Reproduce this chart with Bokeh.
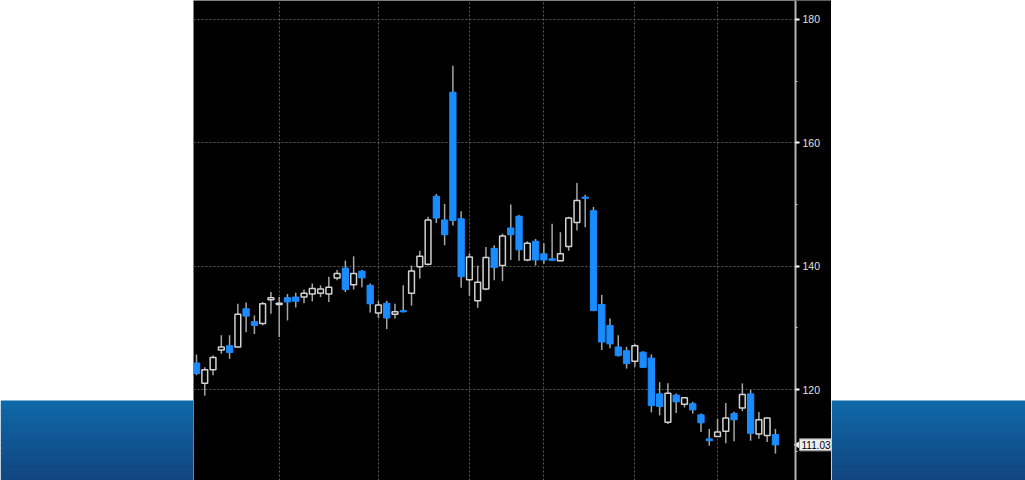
import math
from bokeh.plotting import figure
from bokeh.layouts import row
from bokeh.models import Range1d, FixedTicker, Label, LinearAxis, BoxAnnotation
from bokeh.embed import file_html
from bokeh.resources import INLINE

# ---- data ----
opens = [124.3, 121.0, 123.2, 126.4, 127.1, 126.9, 133.1, 131.0, 130.7, 134.55,
         133.8, 134.9, 135.0, 135.0, 135.5, 135.6, 135.5, 138.1, 139.7, 137.0,
         139.2, 136.9, 132.4, 134.0, 132.2, 132.8, 135.6, 139.9, 140.3, 151.35,
         147.5, 168.2, 147.7, 137.8, 134.4, 136.3, 142.9, 140.1, 146.2, 148.1,
         141.0, 144.05, 142.0, 141.2, 140.9, 143.2, 147.1, 151.2, 149.0, 133.8,
         130.4, 126.9, 126.3, 124.6, 126.05, 125.1, 119.3, 114.7, 119.1, 117.6,
         117.7, 115.9, 112.0, 112.4, 113.25, 116.1, 117.0, 119.3, 112.8, 112.55,
         112.7]
highs = [125.7, 123.6, 125.5, 128.8, 128.8, 133.9, 134.1, 132.0, 134.2, 135.8,
         135.0, 135.5, 135.7, 136.2, 137.2, 136.9, 138.3, 139.4, 140.9, 141.6,
         139.4, 137.2, 134.4, 134.4, 133.9, 136.9, 140.1, 142.5, 148.0, 151.7,
         150.1, 172.5, 148.9, 142.1, 140.1, 143.1, 143.4, 145.25, 150.0, 148.3,
         144.05, 144.4, 143.7, 146.9, 145.5, 148.0, 153.5, 151.6, 149.6, 135.35,
         131.5, 128.8, 126.9, 127.4, 126.2, 125.7, 121.2, 121.0, 119.35, 118.75,
         118.0, 116.1, 113.6, 115.25, 117.8, 116.4, 121.0, 119.95, 116.35, 115.5,
         113.6]
lows = [122.3, 119.0, 122.3, 125.8, 125.0, 126.8, 129.3, 129.0, 130.4, 132.3,
        128.5, 131.2, 133.3, 134.0, 134.3, 135.0, 134.2, 137.7, 135.8, 136.2,
        136.6, 132.5, 131.6, 129.8, 131.5, 132.5, 133.6, 138.0, 140.1, 147.0,
        143.4, 146.6, 136.5, 135.2, 133.25, 136.1, 137.7, 137.6, 141.0, 140.9,
        140.8, 140.1, 140.4, 140.9, 140.8, 142.5, 145.8, 146.3, 132.7, 126.4,
        126.7, 125.35, 123.4, 123.7, 123.5, 116.3, 115.8, 114.4, 116.2, 117.1,
        116.1, 113.1, 110.9, 112.3, 111.3, 111.6, 116.5, 111.7, 112.0, 111.5,
        109.6]
closes = [122.6, 123.2, 125.2, 126.9, 126.0, 132.2, 131.9, 130.4, 133.9, 134.9,
          134.0, 134.2, 134.3, 135.6, 136.4, 136.3, 136.6, 138.8, 136.2, 138.8,
          138.1, 133.9, 133.7, 131.6, 132.6, 132.6, 139.2, 141.6, 147.5, 147.8,
          145.1, 147.4, 138.3, 141.5, 137.4, 141.4, 139.8, 144.9, 145.1, 142.65,
          143.7, 141.0, 141.0, 140.95, 142.0, 147.8, 150.65, 151.0, 132.8, 127.7,
          127.4, 125.5, 124.2, 127.1, 123.6, 117.4, 117.25, 119.4, 118.0, 118.65,
          116.7, 114.6, 111.7, 113.1, 115.4, 115.1, 119.2, 112.9, 115.1, 115.4,
          111.03]
price_ticks = [120, 140, 160, 180]
price_minor_ticks = [110, 130, 150, 170]
grid_sessions = [10, 22, 33, 42, 53, 63]
last_price = closes[-1]

idx = list(range(len(opens)))
up_x = [i for i in idx if closes[i] >= opens[i]]
dn_x = [i for i in idx if closes[i] < opens[i]]

BLUE = "#1a8cff"
FONT = "Liberation Sans"
AXIS_AT = 72.43  # session position where the price axis sits

# ---- main chart panel ----
p = figure(width=638, height=480,
           x_range=Range1d(-0.363, 76.78), y_range=Range1d(105.25, 183.08),
           x_axis_location=None, y_axis_location=None,
           output_backend="svg", toolbar_location=None,
           min_border_left=0, min_border_top=0, min_border_bottom=0,
           min_border_right=0,
           background_fill_color="black", border_fill_color="black",
           outline_line_color=None)

p.xgrid.ticker = FixedTicker(ticks=grid_sessions)
p.ygrid.ticker = FixedTicker(ticks=price_ticks)
for g in (p.xgrid, p.ygrid):
    g.grid_line_color = "#5a5a5a"
    g.grid_line_dash = "2 2"
    g.grid_line_width = 1

# black strip right of the price axis, hiding the grid there
mask = BoxAnnotation(left=AXIS_AT, fill_color="black", fill_alpha=1.0,
                     line_color=None, level="underlay")
p.add_layout(mask)

ax = LinearAxis(fixed_location=AXIS_AT,
                ticker=FixedTicker(ticks=price_ticks, minor_ticks=price_minor_ticks))
ax.axis_line_color = "#b4b4b4"
ax.axis_line_width = 2
ax.major_tick_line_color = "white"
ax.major_tick_line_width = 2
ax.major_tick_out = 4
ax.major_tick_in = 0
ax.minor_tick_line_color = "#cccccc"
ax.minor_tick_out = 2
ax.minor_tick_in = 0
ax.major_label_text_color = "#e0e0e0"
ax.major_label_text_font_size = "10.5px"
ax.major_label_text_font = FONT
ax.major_label_standoff = 3
p.add_layout(ax, "right")

# wicks
p.segment(x0=idx, y0=lows, x1=idx, y1=highs, line_color="#a6a6a6", line_width=1.5)
# down candles (filled blue)
p.vbar(x=dn_x, width=0.76,
       top=[opens[i] for i in dn_x], bottom=[closes[i] for i in dn_x],
       fill_color=BLUE, line_color=BLUE, line_width=1)
# up candles (hollow)
p.vbar(x=up_x, width=0.7,
       top=[closes[i] for i in up_x], bottom=[opens[i] for i in up_x],
       fill_color="black", line_color="#d2d2d2", line_width=1.5)

# last-price tag with its pointer
p.scatter(x=[AXIS_AT + 0.4], y=[last_price], marker="triangle", size=8,
          angle=math.pi / 2, fill_color="#eeeeee", line_color="#eeeeee")
tag = Label(x=AXIS_AT, y=last_price, x_offset=4, text=f"{last_price:.2f}",
            text_font=FONT, text_font_size="10px", text_color="black",
            text_baseline="middle", text_align="left",
            background_fill_color="#eeeeee", border_line_color="#999999",
            padding=2)
p.add_layout(tag)

# ---- side panels (slide background with blue band) ----
band_top = "#0e68a6"
band_bot = "#114681"


def hex2rgb(h):
    return tuple(int(h[k:k + 2], 16) for k in (1, 3, 5))


def side(w):
    s = figure(width=w, height=480, x_range=Range1d(0, 1), y_range=Range1d(480, 0),
               x_axis_location=None, y_axis_location=None,
               output_backend="svg", toolbar_location=None,
               min_border_left=0, min_border_right=0, min_border_top=0, min_border_bottom=0,
               background_fill_color="white", border_fill_color="white",
               outline_line_color=None)
    s.grid.visible = False
    n = 16
    a, b = hex2rgb(band_top), hex2rgb(band_bot)
    tops, bots, cols = [], [], []
    for k in range(n):
        t = k / (n - 1)
        c = tuple(round(a[j] + (b[j] - a[j]) * t) for j in range(3))
        cols.append("#%02x%02x%02x" % c)
        tops.append(400 + 5 * k)
        bots.append(400 + 5 * (k + 1) + 0.5)
    s.quad(left=0, right=1, top=tops, bottom=bots, fill_color=cols, line_color=None)
    return s


left = side(193)
right = side(194)

layout = row(left, p, right, spacing=0)
open("out.html", "w").write(file_html(layout, INLINE))
